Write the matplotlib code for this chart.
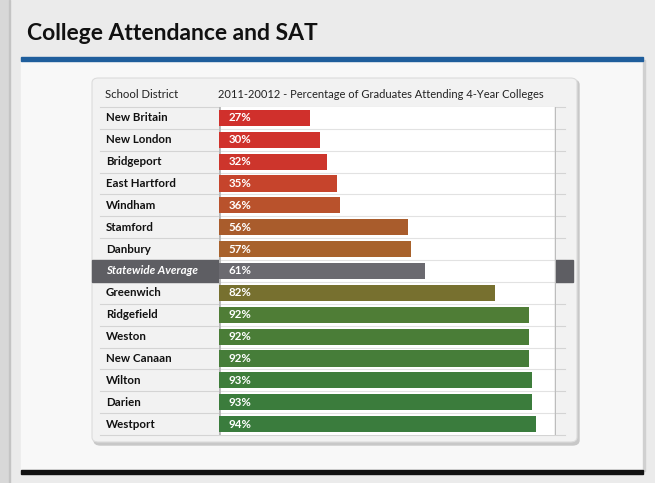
import matplotlib
matplotlib.use("Agg")
import matplotlib.pyplot as plt
from matplotlib.patches import Rectangle, FancyBboxPatch
from matplotlib.transforms import blended_transform_factory

W, H = 655, 483

districts = ["New Britain", "New London", "Bridgeport", "East Hartford", "Windham",
             "Stamford", "Danbury", "Statewide Average", "Greenwich", "Ridgefield",
             "Weston", "New Canaan", "Wilton", "Darien", "Westport"]
pct = [27, 30, 32, 35, 36, 56, 57, 61, 82, 92, 92, 92, 93, 93, 94]
avg_name = "Statewide Average"

title = "College Attendance and SAT"
col_head = "School District"
bar_head = "2011-20012 - Percentage of Graduates Attending 4-Year Colleges"

BAR_COLORS = ["#d0302c", "#d0322c", "#cd352c", "#c6442c", "#b9522c", "#a95c2c",
              "#a8622c", "#6b6a70", "#77702f", "#4f7d36", "#4a7d37", "#467d39",
              "#3e7d3b", "#3b7c3c", "#3a7c3d"]
FONT = "Lato"


def fx(px):
    return px / W


def fy(py):
    return 1 - py / H


fig = plt.figure(figsize=(W / 100, H / 100), dpi=100)
fig.patch.set_facecolor("#ebebeb")

# slide frame
fig.add_artist(Rectangle((0, 0), fx(8), 1, transform=fig.transFigure,
                         color="#d8d8d8", zorder=0))
fig.add_artist(Rectangle((fx(9), 0), fx(1), 1, transform=fig.transFigure,
                         color="#c4c4c4", zorder=0))
fig.text(fx(27), fy(33), title, fontsize=16.5, fontweight="bold",
         family=FONT, color="#111111", va="center", ha="left")

# white panel, blue top rule, black bottom rule
fig.add_artist(Rectangle((fx(21), fy(471)), fx(622), fy(60) - fy(471),
                         transform=fig.transFigure, color="#f8f8f8", zorder=0.5))
fig.add_artist(Rectangle((fx(643), fy(471)), fx(2), fy(60) - fy(471),
                         transform=fig.transFigure, color="#d0d0d0", zorder=0.5))
fig.add_artist(Rectangle((fx(21), fy(61)), fx(622), fy(57) - fy(61),
                         transform=fig.transFigure, color="#1f5e9c", zorder=1))
fig.add_artist(Rectangle((fx(21), fy(474)), fx(622), fy(470) - fy(474),
                         transform=fig.transFigure, color="#111111", zorder=1))

# table card with shadow
fig.add_artist(FancyBboxPatch((fx(94), fy(445)), fx(485), fy(80) - fy(445),
                              boxstyle="round,pad=0,rounding_size=0.01",
                              transform=fig.transFigure, color="#c8c8c8", zorder=1))
fig.add_artist(FancyBboxPatch((fx(92), fy(442)), fx(485), fy(78) - fy(442),
                              boxstyle="round,pad=0,rounding_size=0.01",
                              transform=fig.transFigure, facecolor="#f2f2f2",
                              edgecolor="#dcdcdc", linewidth=0.8, zorder=1.1))

fig.text(fx(105), fy(94), col_head, fontsize=8.2, family=FONT,
         color="#222222", va="center", ha="left")
fig.text(fx(218), fy(94), bar_head, fontsize=8.0, family=FONT,
         color="#222222", va="center", ha="left")

# bar axes: 0..100 maps to x 219..556, rows span y 107..435
ax = fig.add_axes([fx(219), fy(435), fx(556) - fx(219), fy(107) - fy(435)])
ax.set_zorder(2)
ax.set_facecolor("white")
ax.set_xlim(0, 100)
n = len(districts)
ax.set_ylim(n - 0.5, -0.5)
for s in ax.spines.values():
    s.set_visible(False)
ax.set_xticks([])
ax.set_yticks([])

ys = list(range(n))
ax.barh(ys, pct, height=0.74, color=BAR_COLORS, zorder=3)
for y, v in zip(ys, pct):
    ax.text(2.9, y, f"{v}%", color="white", fontsize=8.3, fontweight="bold",
            family=FONT, va="center", ha="left", zorder=4)
for b in range(n - 1):
    ax.axhline(b + 0.5, color="#e2e2e2", linewidth=0.8, zorder=1)

# left/right shadow edges of the plot area
ax.axvline(0, color="#b8b8b8", linewidth=2.0, zorder=2)
ax.axvline(100, color="#bdbdbd", linewidth=2.5, zorder=2)

tr = blended_transform_factory(fig.transFigure, ax.transData)
fig.add_artist(plt.Line2D([fx(100), fx(565)], [-0.5, -0.5], transform=tr,
                          color="#d4d4d4", linewidth=0.8, zorder=1.5))
for b in range(n):
    fig.add_artist(plt.Line2D([fx(100), fx(565)], [b + 0.5, b + 0.5], transform=tr,
                              color="#d4d4d4", linewidth=0.8, zorder=1.5))

for y, name in zip(ys, districts):
    if name == avg_name:
        fig.add_artist(Rectangle((fx(92), y - 0.5), fx(481), 1.0, transform=tr,
                                 color="#5e5e63", zorder=1.6))
        fig.text(fx(106), 0, name, transform=tr, fontsize=8.3, fontstyle="italic",
                 fontweight="bold", family=FONT, color="white", va="center",
                 ha="left", zorder=3).set_y(y)
    else:
        fig.text(fx(106), 0, name, transform=tr, fontsize=8.3, fontweight="bold",
                 family=FONT, color="#111111", va="center", ha="left",
                 zorder=3).set_y(y)

fig.savefig("out.png", dpi=100)
